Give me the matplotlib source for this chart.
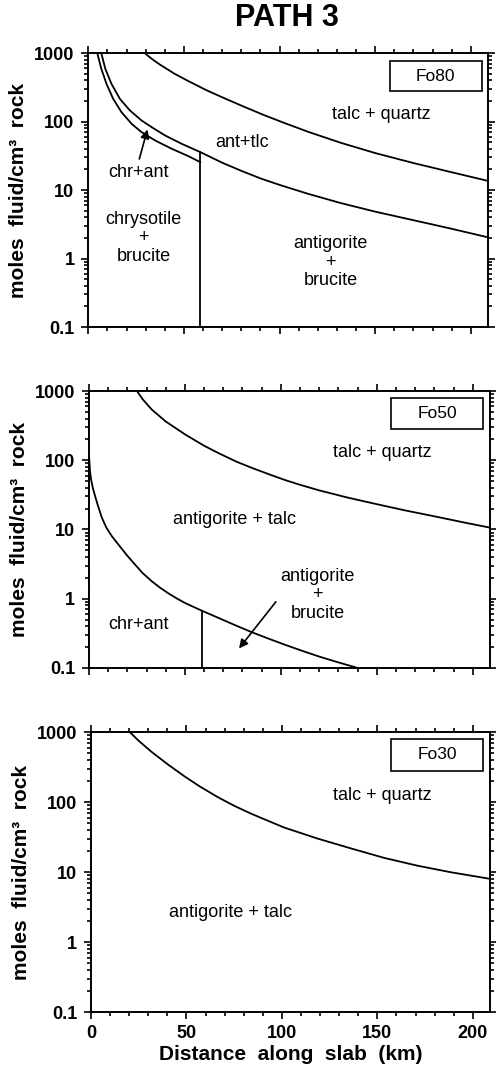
import matplotlib
matplotlib.use("Agg")
import matplotlib.pyplot as plt
from matplotlib.patches import Rectangle
from matplotlib.ticker import FixedLocator, MultipleLocator, NullFormatter

plt.rcParams['font.family'] = ['Liberation Sans', 'DejaVu Sans']

# --- Fo80 boundaries (km, moles fluid / cm3 rock)
fo80_tq_x = [29.5, 33, 37, 41, 45, 52, 62, 72, 82, 92, 102, 115, 132, 150, 170, 190, 209]
fo80_tq_y = [1000, 832, 692, 589, 501, 394, 285, 214, 162, 124, 96.6, 70.8, 49, 34.7, 24.8, 18.2, 13.6]

fo80_ant_x = [6.8, 8.9, 12.1, 16.5, 21.7, 27.8, 33.1, 40.1, 48.8, 58.5, 70, 80, 90, 100, 115, 132, 150, 170, 190, 209]
fo80_ant_y = [1000, 590, 356, 215, 146, 104, 83, 62.8, 47.4, 35.9, 25.1, 19.1, 14.8, 11.9, 8.8, 6.46, 4.84, 3.63, 2.72, 2.04]

fo80_chr_x = [4.7, 6.8, 9.5, 13.0, 17.3, 22.6, 27.8, 34.8, 43.6, 52.3, 58.5]
fo80_chr_y = [1000, 590, 356, 215, 138, 92.9, 70.3, 53.2, 40.1, 31.3, 25.6]

fo80_vert_x = 58.5
fo80_vert_top = 35.9

# --- Fo50 boundaries
fo50_tq_x = [25, 28, 32.8, 40, 50.3, 60, 67.7, 77, 85.2, 95, 102.6, 110, 120, 135, 150, 165, 180, 195, 210]
fo50_tq_y = [1000, 759, 537, 363, 234, 162, 126, 95, 77, 61, 51.3, 44.2, 36.7, 28.8, 23.2, 18.8, 15.5, 12.7, 10.5]

fo50_ant_x = [0, 0.5, 1.05, 2, 3.1, 4.5, 6.6, 9, 12, 15.4, 20, 24.1, 28, 32.8, 37, 41.5, 46, 50.3, 59,
              67.7, 76.4, 85, 93.9, 102.6, 111.3, 120, 128.8, 140]
fo50_ant_y = [120, 70.8, 53.7, 39.8, 30.9, 22.9, 15.1, 10.7, 7.94, 6.03, 4.17, 3.09, 2.34, 1.78, 1.445,
              1.19, 1.0, 0.861, 0.668, 0.525, 0.412, 0.327, 0.263, 0.214, 0.176, 0.146, 0.123, 0.1]

fo50_vert_x = 59
fo50_vert_top = 0.668

# --- Fo30 boundary
fo30_tq_x = [20.4, 24.7, 31.7, 40, 49, 57, 66.6, 75, 84, 101, 118.8, 136.2, 153.7, 171.1, 188.5, 208.5]
fo30_tq_y = [1000, 767, 525, 351, 234, 168, 117.5, 89, 68.4, 43.7, 30.2, 21.9, 16.0, 12.4, 10.0, 8.1]

xmax = 209


def setup(ax, bottom_labels):
    ax.set_xlim(0, xmax)
    ax.set_yscale('log')
    ax.set_ylim(0.1, 1000)
    ax.xaxis.set_major_locator(MultipleLocator(50))
    ax.xaxis.set_minor_locator(MultipleLocator(10))
    ax.yaxis.set_major_locator(FixedLocator([0.1, 1, 10, 100, 1000]))
    ax.set_yticklabels(['0.1', '1', '10', '100', '1000'])
    ax.yaxis.set_minor_formatter(NullFormatter())
    ax.tick_params(which='both', direction='out', top=True, right=True, width=1.2)
    ax.tick_params(which='major', length=5, labelsize=13)
    ax.tick_params(axis='y', which='major', pad=5)
    ax.tick_params(axis='x', which='major', pad=4)
    ax.tick_params(which='minor', length=3)
    for lab in ax.get_yticklabels():
        lab.set_fontweight('bold')
    if bottom_labels:
        ax.set_xticklabels([f"{int(v)}" for v in ax.get_xticks()])
        for lab in ax.get_xticklabels():
            lab.set_fontweight('bold')
        ax.set_xlabel('Distance  along  slab  (km)', fontsize=15, fontweight='bold', labelpad=2)
    else:
        ax.set_xticklabels([])
    ax.set_ylabel('moles  fluid/cm³  rock', fontsize=15, fontweight='bold')
    ax.yaxis.set_label_coords(-0.15, 0.5)
    for sp in ax.spines.values():
        sp.set_linewidth(1.4)


def fo_box(ax, text, x0, x1, y0, y1):
    ax.add_patch(Rectangle((x0, y0), x1 - x0, y1 - y0, fill=False, lw=1.2, ec='k'))
    ax.text((x0 + x1) / 2, (y0 * y1) ** 0.5, text, ha='center', va='center', fontsize=12.5)


fig = plt.figure(figsize=(4.96, 10.66), dpi=100)
ax1 = fig.add_axes([0.178, 0.6932, 0.806, 0.2570])
ax2 = fig.add_axes([0.1794, 0.3734, 0.8085, 0.2598])
ax3 = fig.add_axes([0.1835, 0.0504, 0.8044, 0.2627])

lw = 1.3
txt = dict(ha='center', va='center', fontsize=13, linespacing=1.13)

# Fo80
setup(ax1, False)
ax1.plot(fo80_tq_x, fo80_tq_y, 'k-', lw=lw)
ax1.plot(fo80_ant_x, fo80_ant_y, 'k-', lw=lw)
ax1.plot(fo80_chr_x, fo80_chr_y, 'k-', lw=lw)
ax1.plot([fo80_vert_x, fo80_vert_x], [0.1, fo80_vert_top], 'k-', lw=lw)
fo_box(ax1, 'Fo80', 157.5, 205.6, 276, 773)
ax1.text(153, 125, 'talc + quartz', **txt)
ax1.text(80.6, 48.7, 'ant+tlc', **txt)
ax1.text(26.4, 18.2, 'chr+ant', **txt)
ax1.text(29, 2.0, 'chrysotile\n+\nbrucite', **txt)
ax1.text(126.6, 0.89, 'antigorite\n+\nbrucite', **txt)
ax1.annotate('', xy=(31.3, 84), xytext=(26.3, 26),
             arrowprops=dict(arrowstyle='-|>', color='k', lw=1.2, mutation_scale=13))

# Fo50
setup(ax2, False)
ax2.plot(fo50_tq_x, fo50_tq_y, 'k-', lw=lw)
ax2.plot(fo50_ant_x, fo50_ant_y, 'k-', lw=lw)
ax2.plot([fo50_vert_x, fo50_vert_x], [0.1, fo50_vert_top], 'k-', lw=lw)
fo_box(ax2, 'Fo50', 157.6, 205.6, 281, 783)
ax2.text(153, 129, 'talc + quartz', **txt)
ax2.text(75.6, 13.8, 'antigorite + talc', **txt)
ax2.text(119.2, 1.14, 'antigorite\n+\nbrucite', **txt)
ax2.text(25.8, 0.42, 'chr+ant', **txt)
ax2.annotate('', xy=(77.3, 0.178), xytext=(98.3, 0.97),
             arrowprops=dict(arrowstyle='-|>', color='k', lw=1.2, mutation_scale=13))

# Fo30
setup(ax3, True)
ax3.plot(fo30_tq_x, fo30_tq_y, 'k-', lw=lw)
fo_box(ax3, 'Fo30', 157.1, 205.4, 281, 804)
ax3.text(152.8, 124, 'talc + quartz', **txt)
ax3.text(73.3, 2.7, 'antigorite + talc', **txt)

fig.text(0.578, 1 - 17.5 / 1066, 'PATH 3', ha='center', va='center', fontsize=22, fontweight='bold')

fig.savefig('out.png', dpi=100)
